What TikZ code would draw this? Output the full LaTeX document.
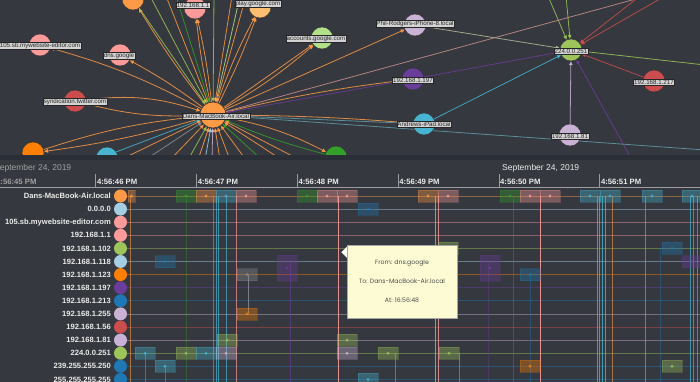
\documentclass[tikz,border=0pt]{standalone}
\usepackage{fontspec}
\setmainfont{Liberation Sans}
\newfontfamily\tipfont{Poppins}
\usetikzlibrary{arrows.meta, positioning, calc}

\pgfdeclarelayer{bglayer}
\pgfdeclarelayer{edgelayer}
\pgfsetlayers{bglayer,edgelayer,main}

\definecolor{bgdark}{HTML}{35383E}
\definecolor{bandnavy}{HTML}{2A2E36}
\definecolor{axisgray}{HTML}{9A9C9F}
\definecolor{cOrange}{HTML}{FD9A45}
\definecolor{cDeepOrange}{HTML}{FF7F00}
\definecolor{cPink}{HTML}{FB9A99}
\definecolor{cLightBlue}{HTML}{A6CEE3}
\definecolor{cGreen}{HTML}{9DC45A}
\definecolor{cLightGreen}{HTML}{B2DF8A}
\definecolor{cPurple}{HTML}{6A3D9A}
\definecolor{cBlue}{HTML}{1F78B4}
\definecolor{cLavender}{HTML}{CAB2D6}
\definecolor{cRed}{HTML}{CB4D4D}
\definecolor{cCyan}{HTML}{48B4D2}
\definecolor{cDarkGreen}{HTML}{33A02C}
\definecolor{cPeach}{HTML}{FDBF6F}
\definecolor{cGray}{HTML}{8E8E96}
\definecolor{lblgray}{HTML}{D3D3D3}
\definecolor{tipyellow}{HTML}{FDFBD3}

\newcommand{\rowy}[1]{196+(#1-1)*13.1}

\begin{document}
\begin{tikzpicture}[x=1pt, y=-1pt,
    host/.style    = {circle, draw=black!80, line width=0.4pt,
                      minimum size=22pt, inner sep=0pt},
    hostlbl/.style = {draw=black!85, fill=lblgray, text=black!85,
                      inner sep=0.7pt, line width=0.4pt,
                      font=\fontsize{6.2}{6.5}\selectfont},
    link/.style    = {-{Triangle[length=4pt,width=3.6pt]}, line width=0.8pt,
                      draw opacity=0.85},
    rowlbl/.style  = {anchor=east, text=white!92!black, inner sep=0pt,
                      font=\fontsize{7.6}{9}\selectfont\bfseries},
    rowdot/.style  = {circle, minimum size=13pt, inner sep=0pt},
    evbox/.style   = {fill opacity=0.36, draw opacity=0.25, line width=0.4pt,
                      inner sep=0pt},
    timelbl/.style = {anchor=south west, inner sep=1pt,
                      font=\fontsize{7.7}{9}\selectfont\bfseries},
    tipbox/.style  = {fill=tipyellow, draw=gray!70, line width=0.4pt,
                      minimum width=110pt, minimum height=73pt, align=center,
                      text=black!70, font=\tipfont\fontsize{6.2}{19}\selectfont}
  ]
  \useasboundingbox (0,0) rectangle (700,382);
  \begin{pgfonlayer}{bglayer}
    \fill[bgdark] (0,0) rectangle (700,382);
  \end{pgfonlayer}

  % network graph
  \node[host, fill=cOrange, minimum size=26pt] (dans) at (213,115) {};
  \node[host, fill=cOrange]     (tlhost) at (133,-1)  {};
  \node[host, fill=cPink]       (gw)     at (195,8)   {};
  \node[host, fill=cPeach]      (play)   at (260,7)   {};
  \node[host, fill=cLightGreen] (acct)   at (322,38)  {};
  \node[host, fill=cPink]       (web)    at (40,45)   {};
  \node[host, fill=cPink]       (dns)    at (120,55)  {};
  \node[host, fill=cRed]        (synd)   at (75,101)  {};
  \node[host, fill=cDeepOrange] (blhost) at (33,153)  {};
  \node[host, fill=cCyan]       (bchost) at (107,158) {};
  \node[host, fill=cDarkGreen]  (brhost) at (336,157) {};
  \node[host, fill=cLavender]   (phil)   at (415,25)  {};
  \node[host, fill=cGreen]      (mdns)   at (571,50)  {};
  \node[host, fill=cPurple]     (h197)   at (413,79)  {};
  \node[host, fill=cRed]        (h217)   at (654,81)  {};
  \node[host, fill=cCyan]       (ipad)   at (424,124) {};
  \node[host, fill=cLavender]   (h81)    at (570,135) {};

  \node[hostlbl] (danslbl) at ($(dans)+(3,1)$)  {Dans-MacBook-Air.local};
  \node[hostlbl] (gwlbl)   at ($(gw)+(-2,-3)$)  {192.168.1.1};
  \node[hostlbl] (playlbl) at ($(play)+(-2,-3)$) {play.google.com};
  \node[hostlbl] (acctlbl) at ($(acct)+(-6,1)$) {accounts.google.com};
  \node[hostlbl] (weblbl)  at ($(web)+(0,1)$)   {105.sb.mywebsite-editor.com};
  \node[hostlbl] (dnslbl)  at ($(dns)+(-1,1)$)  {dns.google};
  \node[hostlbl] (syndlbl) at ($(synd)+(0,1)$)  {syndication.twitter.com};
  \node[hostlbl] (phillbl) at ($(phil)+(0,-1)$) {Phil-Rodgers-iPhone-8.local};
  \node[hostlbl] (mdnslbl) at ($(mdns)+(0,1)$)  {224.0.0.251};
  \node[hostlbl] (h197lbl) at ($(h197)+(0,1)$)  {192.168.1.197};
  \node[hostlbl] (h217lbl) at ($(h217)+(0,1)$)  {192.168.1.217};
  \node[hostlbl] (ipadlbl) at ($(ipad)+(0,0)$)  {Andrews-iPad.local};
  \node[hostlbl] (h81lbl)  at ($(h81)+(0,1)$)   {192.168.1.81};

  \begin{pgfonlayer}{edgelayer}
    \draw[link, cOrange] (dans) to[bend right=6] (web);
    \draw[link, cOrange] (dans) to[bend right=4] (dns);
    \draw[link, cOrange] (dans) to[bend left=8] (synd);
    \draw[link, cOrange] (synd) to[bend left=12] (dans);
    \draw[link, cOrange] (blhost) to[bend left=6] (dans);
    \draw[link, cOrange] (dans) to[bend left=4] (blhost);
    \draw[link, cOrange] (dans) to[bend left=3] (gw);
    \draw[link, cOrange] (dans) to[bend right=3] (gw);
    \draw[link, cOrange] (dans) to[bend left=4] (play);
    \draw[link, cOrange] (dans) to[bend right=3] (play);
    \draw[link, cOrange] (dans) to[bend right=5] (acct);
    \draw[link, cOrange] (dans) -- (acct);
    \draw[link, cOrange] (dans) to[bend left=3] (tlhost);
    \draw[link, cGreen] (tlhost) -- (dans);
    \draw[link, cOrange] (dans) -- (phil);
    \draw[link, cOrange] (dans) to[bend left=3] (h197);
    \draw[link, cPurple] (h197) -- (dans);
    \draw[link, cOrange] (dans) to[bend left=2] (ipad);
    \draw[link, cCyan!60!gray] (ipad) -- (dans);
    \draw[link, cOrange] (dans) to[bend left=8] (brhost);
    \draw[link, cDarkGreen] (brhost) to[bend left=4] (dans);
    % into the mDNS group
    \draw[link, cLavender!50!cGreen] (phil) -- (mdns);
    \draw[link, cPurple] (h197) -- (mdns);
    \draw[link, cCyan] (ipad) -- (mdns);
    \draw[link, cRed] (h217) -- (mdns);
    \draw[link, cLavender] (h81) -- (mdns);
    \foreach \fx/\fy/\fc [count=\k] in {548/-4/cGreen, 566/-4/cGreen,
        640/-4/cRed, 665/-4/cRed, 705/65/cGreen, 632/160/cPurple}{
      \coordinate (mfree\k) at (\fx,\fy);
      \draw[link, \fc] (mfree\k) -- (mdns);
    }
    % links leaving the view
    \foreach \fx/\fc [count=\k] in {95/cCyan, 120/cOrange, 145/cGray,
        170/cOrange, 188/cGreen, 198/cOrange, 205/cLightBlue, 212/cLavender,
        220/cOrange, 230/cOrange, 246/cOrange, 262/cDarkGreen, 282/cOrange,
        300/cOrange}{
      \coordinate (bfree\k) at (\fx,160);
      \draw[link, \fc] (bfree\k) -- (dans);
    }
    \foreach \fx/\fc [count=\k] in {150/cGreen, 166/cOrange, 176/cDarkGreen,
        214/cGreen, 232/cOrange, 240/cLightGreen, 246/cOrange}{
      \coordinate (tfree\k) at (\fx,-4);
      \draw[link, \fc] (tfree\k) -- (dans);
    }
    \coordinate (rfree1) at (705,-20);
    \coordinate (rfree2) at (705,150);
    \draw[link, cPink!60!gray] (dans) -- (rfree1);
    \draw[link, cCyan!50!gray] (dans) -- (rfree2);
  \end{pgfonlayer}

  % timeline
  \fill[bandnavy] (0,155) rectangle (700,160);
  \fill[bgdark] (0,160) rectangle (700,382);

  \node[anchor=west, text=gray!75, inner sep=0pt,
        font=\fontsize{8.5}{10}\selectfont] (dateL) at (-6,168) {September 24, 2019};
  \node[anchor=west, text=white!92!black, inner sep=0pt,
        font=\fontsize{8.5}{10}\selectfont] (dateR) at (502,168) {September 24, 2019};

  \draw[axisgray, line width=0.8pt] (0,187.5) -- (700,187.5);
  \foreach \s [count=\k from 0] in {45,46,47,48,49,50,51}{
    \pgfmathsetmacro\tx{-5+100.8*\k}
    \draw[axisgray, line width=0.7pt] (\tx,174) -- (\tx,187.5);
    \ifnum\k=0
      \node[timelbl, text=gray!75] (tick\k) at (\tx,186) {4:56:\s{} PM};
    \else
      \node[timelbl, text=white!92!black] (tick\k) at (\tx,186) {4:56:\s{} PM};
    \fi
  }

  % rows
  \foreach \hname/\hcol [count=\r] in {Dans-MacBook-Air.local/cOrange,
      0.0.0.0/cLightBlue, 105.sb.mywebsite-editor.com/cPink,
      192.168.1.1/cPink, 192.168.1.102/cGreen, 192.168.1.118/cLightBlue,
      192.168.1.123/cDeepOrange, 192.168.1.197/cPurple, 192.168.1.213/cBlue,
      192.168.1.255/cLavender, 192.168.1.56/cRed, 192.168.1.81/cLavender,
      224.0.0.251/cGreen, 239.255.255.250/cBlue, 255.255.255.255/cBlue}{
    \draw[\hcol, opacity=0.45, line width=0.7pt] (127,{\rowy{\r}}) -- (700,{\rowy{\r}});
    \node[rowdot, fill=\hcol] (dot\r) at (120.5,{\rowy{\r}}) {};
    \node[rowlbl] (row\r) at (111,{\rowy{\r}}) {\hname};
  }

  % message links between rows
  \foreach \vx/\va/\vb/\vc/\vo in {130/1/16/cOrange/0.6, 186/1/16/cDarkGreen/0.35,
      213/1/16/cDeepOrange/0.6, 216/1/16/cCyan/0.7, 218/1/16/cCyan/0.7,
      226/1/16/cCyan/0.7, 236/1/16/cPink/0.7, 145/13/16/cCyan/0.5,
      165/14/16/cCyan/0.5, 248/7/10/cGray/0.8, 290/6/16/cPurple/0.6,
      338/1/16/cPink/0.9, 435/1/16/cOrange/0.8, 438/1/16/cPink/0.8,
      513/1/16/cDarkGreen/0.45, 540/1/16/cPink/0.9, 530/7/16/cBlue/0.4,
      597/1/16/cCyan/0.8, 599/1/16/cCyan/0.8, 602/1/16/cCyan/0.8,
      605/1/16/cCyan/0.8, 612/1/16/cOrange/0.6, 645/1/16/cCyan/0.7,
      660/5/16/cBlue/0.4, 690/1/16/cCyan/0.7, 693/1/16/cCyan/0.7,
      697/1/16/cCyan/0.7, 395/13/16/cGreen/0.5, 459/13/16/cGreen/0.5,
      488/6/16/cPurple/0.4}{
    \draw[\vc, opacity=\vo, line width=0.8pt] (\vx,{\rowy{\va}}) -- (\vx,{\rowy{\vb}});
  }

  % event boxes
  \foreach \ex/\er/\ec/\ew/\eh [count=\k] in {131.5/1/cOrange/7/12,
      186/1/cDarkGreen/20/12, 206/1/cOrange/20/12, 226/1/cCyan/20/12,
      246/1/cPink/20/12, 307/1/cDarkGreen/20/12, 327/1/cPink/20/12,
      347/1/cPink/20/12, 428/1/cOrange/20/12, 448/1/cPink/20/12,
      510/1/cDarkGreen/20/12, 530/1/cPink/20/12, 550/1/cPink/20/12,
      590/1/cCyan/20/12, 610/1/cCyan/20/12, 652/1/cCyan/20/12,
      692/1/cCyan/20/12, 368/2/cBlue/20/12, 448/5/cGreen/20/12,
      672/5/cBlue/20/12, 165/6/cBlue/20/12, 692/6/cPurple/20/12,
      287/6.5/cPurple/20/26, 490/6.5/cPurple/20/26, 247/7/cGray/20/12,
      530/7/cBlue/20/12, 247/10/cDeepOrange/20/12, 227/12/cGreen/20/12,
      347/12/cGreen/20/12, 145/13/cCyan/20/12, 186/13/cGreen/20/12,
      206/13/cCyan/20/12, 226/13/cLavender/20/12, 347/13/cLavender/20/12,
      388/13/cGreen/20/12, 449/13/cGreen/20/12, 165/14/cCyan/20/12,
      530/14/cDeepOrange/20/12, 672/14/cGreen/20/12, 368/15/cCyan/20/12}{
    \node[evbox, fill=\ec, draw=\ec, minimum width=\ew pt, minimum height=\eh pt]
      (ev\k) at (\ex,{\rowy{\er}}) {};
    \fill[\ec, opacity=0.8] (ev\k.center) circle (1.6);
  }

  % tooltip
  \node[tipbox] (tip) at (402,281.5) {From: dns.google\\To: Dans-MacBook-Air.local\\At: 16:56:48};
  \fill[white!70!tipyellow] ($(tip.north west)+(0,2)$) -- ($(tip.north west)+(-5.5,7.5)$)
    -- ($(tip.north west)+(0,13)$) -- cycle;
\end{tikzpicture}
\end{document}
